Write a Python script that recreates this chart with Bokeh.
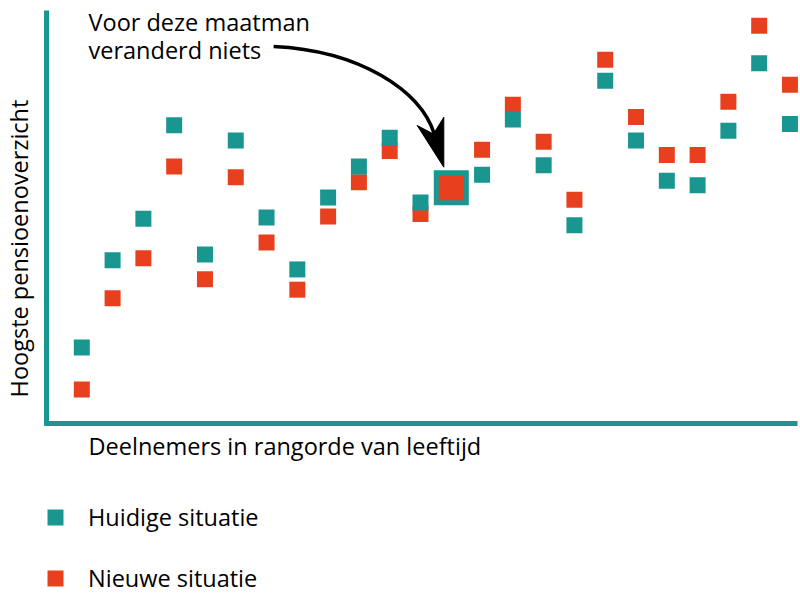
import math
from bokeh.plotting import figure
from bokeh.models import Range1d, Label, Legend, LegendItem, FixedTicker
from bokeh.embed import file_html
from bokeh.resources import INLINE

# ---- data ----
deelnemers = list(range(1, 25))
huidige = [18.4, 39.5, 49.6, 72.2, 40.9, 68.5, 49.9, 37.3, 54.7, 62.2, 69.2, 53.5,
           57.1, 60.2, 73.6, 62.5, 48.0, 83.0, 68.5, 58.8, 57.7, 70.9, 87.2, 72.5]
nieuwe = [8.2, 30.3, 40.0, 62.2, 34.9, 59.6, 43.8, 32.4, 50.1, 58.4, 66.0, 50.7,
          57.1, 66.3, 77.2, 68.2, 54.2, 88.1, 74.2, 65.0, 65.0, 77.9, 96.3, 82.0]
maatman = 13  # participant for whom nothing changes
legend_labels = ["Huidige situatie", "Nieuwe situatie"]
x_title = "Deelnemers in rangorde van leeftijd"
y_title = "Hoogste pensioenoverzicht"
note_lines = ["Voor deze maatman", "veranderd niets"]

TEAL = "#1a9691"
RED = "#e8401e"
FONT = "Open Sans"
FS = "23.5px"

W, H = 800, 600
p = figure(width=W, height=H, output_backend="svg", toolbar_location=None,
           x_range=Range1d(-1.6405, 24.342), y_range=Range1d(-42.86, 102.42),
           min_border_left=0, min_border_right=0, min_border_top=0, min_border_bottom=0)
p.grid.visible = False
p.outline_line_color = None
p.background_fill_color = "white"
p.border_fill_color = "white"

for ax in (p.xaxis[0], p.yaxis[0]):
    ax.ticker = FixedTicker(ticks=[])
    ax.axis_line_color = TEAL
    ax.axis_line_width = 5
    ax.major_tick_line_color = None
    ax.minor_tick_line_color = None
    ax.major_tick_out = 0
    ax.major_tick_in = 0
    ax.minor_tick_out = 0
    ax.minor_tick_in = 0
    ax.major_label_standoff = 0
    ax.major_label_text_font_size = "0px"

# axes drawn at the data origin, limited to the chart area
p.xaxis[0].fixed_location = 0
p.xaxis[0].bounds = (-0.211, 24.24)
p.yaxis[0].fixed_location = -0.1465
p.yaxis[0].bounds = (-0.5, 100.0)

r_red = p.scatter(deelnemers, nieuwe, marker="square", size=16, fill_color=RED, line_color=None)
r_teal = p.scatter(deelnemers, huidige, marker="square", size=16, fill_color=TEAL, line_color=None)

# highlighted participant
hi = maatman - 1
hx, hy = deelnemers[hi], huidige[hi]
p.scatter([hx], [huidige[hi]], marker="square", size=35, fill_color=TEAL, line_color=None)
p.scatter([hx], [nieuwe[hi]], marker="square", size=25, fill_color=RED, line_color=None)

# curved arrow pointing at the highlighted participant (offsets relative to it)
p.bezier(x0=[hx - 5.77], y0=[hy + 34.2], cx0=[hx - 2.95], cy0=[hy + 33.2],
         cx1=[hx - 1.0], cy1=[hy + 23.5], x1=[hx - 0.55], y1=[hy + 13.0],
         line_color="black", line_width=3.5)
p.patch([hx - 0.243, hx - 0.243, hx - 0.58, hx - 1.107],
        [hy + 4.96, hy + 17.06, hy + 13.0, hy + 15.05],
        fill_color="black", line_color="black", line_width=1)

# texts (screen units: from the bottom-left of the canvas)
def lab(text, x, y, **kw):
    p.add_layout(Label(x=x, y=y, x_units="screen", y_units="screen", text=text,
                       text_font=FONT, text_font_size=FS, text_color="black",
                       text_align=kw.pop("align", "left"), text_baseline="alphabetic", **kw))

lab(note_lines[0], 88, H - 21)
lab(note_lines[1], 88, H - 49)
lab(x_title, 88, H - 445)
lab(y_title, 18, H - 248, align="center", angle=math.pi / 2)

legend = Legend(items=[LegendItem(label=legend_labels[0], renderers=[r_teal]),
                       LegendItem(label=legend_labels[1], renderers=[r_red])],
                location=(35, H - 598), glyph_width=40, glyph_height=40,
                label_standoff=13, spacing=21, padding=0, margin=0,
                border_line_color=None, background_fill_alpha=0,
                label_text_font=FONT, label_text_font_size=FS, label_text_color="black")
p.add_layout(legend, "center")

open("out.html", "w").write(file_html(p, INLINE))
